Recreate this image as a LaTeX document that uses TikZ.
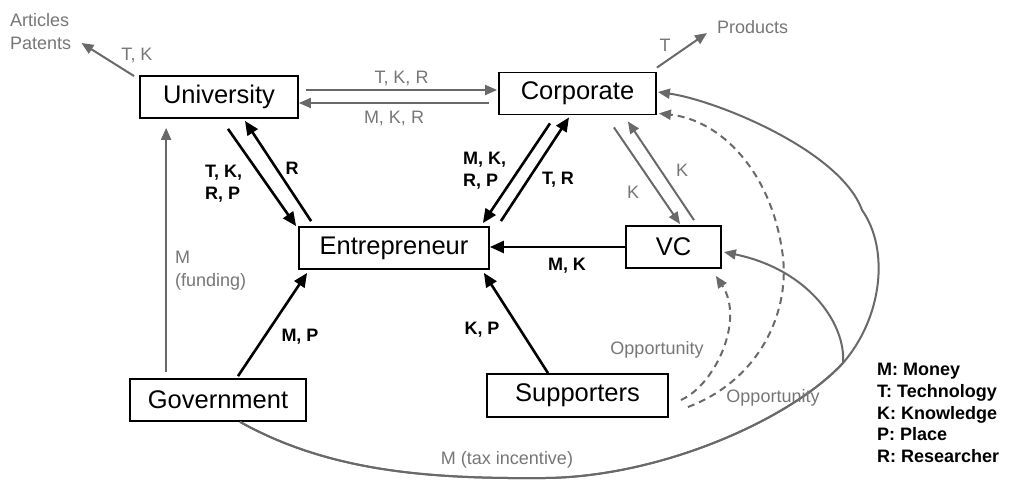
\documentclass[tikz,border=0pt]{standalone}
\usepackage{fontspec}
\setmainfont{Liberation Sans}
\usetikzlibrary{arrows.meta,calc}
\definecolor{linegray}{RGB}{105,105,105}
\definecolor{textgray}{RGB}{118,118,118}
\tikzset{
  actor/.style={draw=black, line width=1.8pt, minimum height=42pt, inner sep=0pt,
    font=\fontsize{25.5}{30}\selectfont},
  flow/.style={draw=black, line width=2.6pt, -{Triangle[length=14pt,width=12pt]}},
  soft/.style={draw=linegray, line width=2pt, -{Triangle[length=12pt,width=10pt]}},
  hint/.style={soft, dash pattern=on 7pt off 5pt},
  blab/.style={font=\fontsize{18}{22}\selectfont\bfseries, inner sep=0pt, align=left},
  glab/.style={font=\fontsize{18}{23}\selectfont, text=textgray, inner sep=0pt, align=left},
  keylist/.style={font=\fontsize{18}{21.8}\selectfont\bfseries, inner sep=0pt, align=left},
}
\begin{document}
\begin{tikzpicture}[x=1pt,y=-1pt]
\useasboundingbox (0,0) rectangle (1024,479);

% actors
\node[actor, minimum width=158pt] (uni)  at (219,97)    {University};
\node[actor, minimum width=157pt] (corp) at (577.5,93.5) {Corporate};
\node[actor, minimum width=190pt] (ent)  at (394,248)   {Entrepreneur};
\node[actor, minimum width=95pt]  (vc)   at (673.5,247) {VC};
\node[actor, minimum width=176pt] (gov)  at (218,400)   {Government};
\node[actor, minimum width=181pt, minimum height=43pt] (sup) at (577.5,395.5) {Supporters};

% outputs
\node[glab, anchor=west] (art)  at (10,32) {Articles\\Patents};
\node[glab, anchor=west] (prod) at (717,27) {Products};

% university <-> corporate
\draw[soft] ($(uni.east)+(7,-7)$) -- ($(corp.west)+(-1,-3.5)$)
  node[glab, midway, yshift=12pt] {T, K, R};
\draw[soft] ($(corp.west)+(-9,9.5)$) -- ($(uni.east)+(0,6)$)
  node[glab, midway, yshift=-15pt] {M, K, R};

% university <-> entrepreneur
\draw[flow] ($(uni.south)+(9,10)$) -- ($(ent.north west)+(-2,0)$);
\draw[flow] ($(ent.north west)+(13,-5)$) -- ($(uni.south)+(26,2)$);
\node[blab, anchor=west] at (205,184) {T, K,\\R, P};
\node[blab] at (292,168) {R};

% corporate <-> entrepreneur
\draw[flow] ($(corp.south)+(-27.5,8)$) -- ($(ent.north east)+(-7,-3)$);
\draw[flow] ($(ent.north east)+(11,-5)$) -- ($(corp.south)+(-8.5,2)$);
\node[blab, anchor=west] at (463,171) {M, K,\\R, P};
\node[blab] at (558,180) {T, R};

% VC -> entrepreneur
\draw[flow] (vc.west) -- (vc.west -| ent.east);
\node[blab] at (567,266) {M, K};

% corporate <-> VC
\draw[soft] ($(corp.south east)+(-43,12)$) -- ($(vc.north)+(6.5,-1)$);
\draw[soft] ($(vc.north)+(20.5,-5)$) -- ($(corp.south east)+(-29,6)$);
\node[glab] at (633,192) {K};
\node[glab] at (682,170) {K};

% government / supporters -> entrepreneur
\draw[flow] ($(gov.north)+(20,-2)$) -- ($(ent.south west)+(9,3)$);
\node[blab] at (300,337) {M, P};
\draw[flow] ($(sup.north)+(-29.5,0)$) -- ($(ent.south east)+(-6,3)$);
\node[blab] at (482,330) {K, P};

% government -> university (funding)
\draw[soft] ($(gov.north west)+(37,-6)$) -- ($(uni.south west)+(27,9)$);
\node[glab, anchor=west] at (175,271) {M\\(funding)};

% outputs
\draw[soft] ($(uni.north west)+(-5,1)$) -- ($(art.east)+(10,11)$);
\node[glab] at (137,55) {T, K};
\draw[soft] ($(corp.north east)+(0,-4)$) -- ($(prod.west)+(-10,6)$);
\node[glab] at (665,45) {T};

% tax incentive: government -> corporate and government -> VC
\draw[soft] ($(gov.south)+(22,0)$) .. controls (330,472) and (430,479) .. (545,478)
  .. controls (660,477) and (790,420) .. (843,363)
  .. controls (882,318) and (890,250) .. (862,210)
  .. controls (840,150) and (715,100) .. ($(corp.east)+(1,-1.5)$);
\draw[soft] ($(gov.south)+(22,0)$) .. controls (330,472) and (430,479) .. (545,478)
  .. controls (660,477) and (790,420) .. (843,363)
  .. controls (846,325) and (810,270) .. ($(vc.east)+(2,5)$);
\node[glab] at (507,460) {M (tax incentive)};

% opportunities from supporters
\draw[hint] ($(sup.east)+(12,4.5)$) .. controls (715,385) and (745,320) .. ($(vc.south east)+(-6,7)$);
\draw[hint] ($(sup.east)+(19,11.5)$) .. controls (760,380) and (792,310) .. (782,250)
  .. controls (770,170) and (720,120) .. ($(corp.south east)+(2,-2)$);
\node[glab] at (657,350) {Opportunity};
\node[glab] at (773,398) {Opportunity};

% legend
\node[keylist, anchor=west] at (877,413)
  {M: Money\\T: Technology\\K: Knowledge\\P: Place\\R: Researcher};
\end{tikzpicture}
\end{document}
